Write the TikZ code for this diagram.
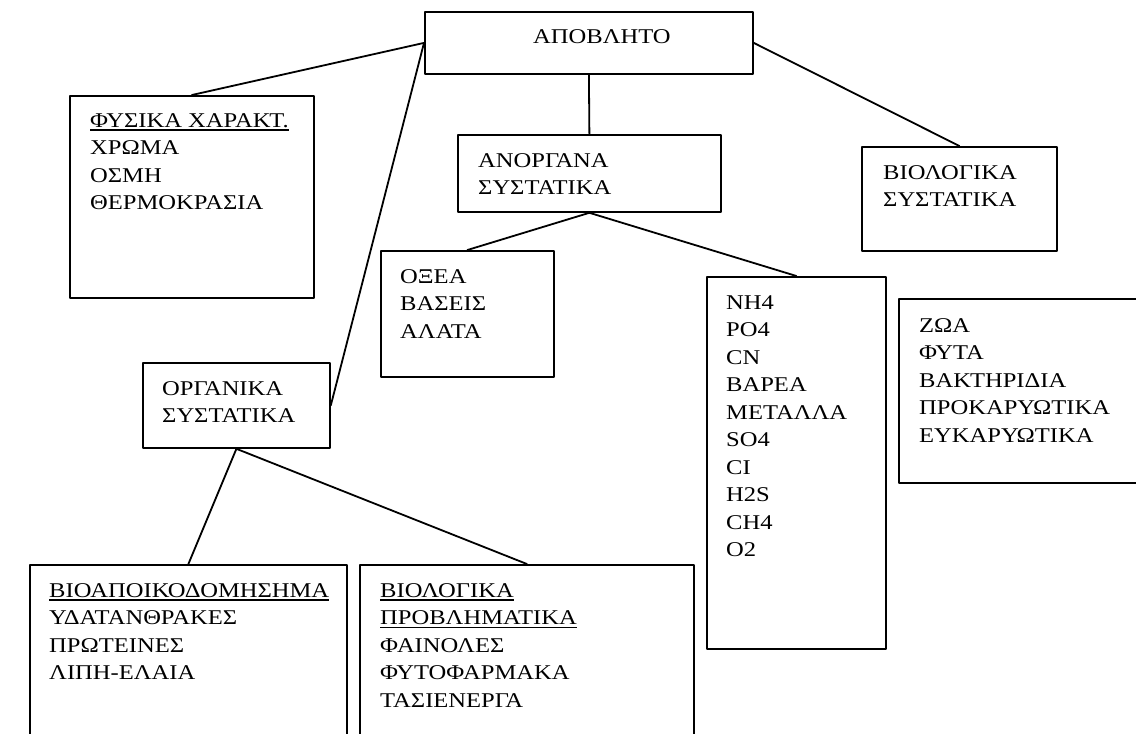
\documentclass[tikz,border=0pt]{standalone}
\usepackage{fontspec}
\setmainfont{Liberation Serif}[FakeStretch=1.17]
\usepackage{tikz}
\usetikzlibrary{positioning}
\newcommand{\boxlines}[1]{\begin{tabular}[t]{@{}l@{}}#1\end{tabular}}
\newcommand{\ulined}[1]{\setbox0\hbox{#1}\rlap{\rule[-3.5pt]{\wd0}{1.5pt}}\box0}
\tikzset{
  wt diagram/.style={x=1pt, y=-1pt, line cap=round, line join=round},
  wt box/.style={draw, line width=1.8pt, anchor=north west, inner sep=0pt},
  wt text/.style={anchor=base west, inner sep=0pt,
    font=\fontsize{21}{27.5}\selectfont},
  wt link/.style={draw, line width=1.8pt}
}

\begin{document}
\begin{tikzpicture}[wt diagram]
\useasboundingbox (0,0) rectangle (1136,734);
\clip (0,0) rectangle (1136,734);
% boxes
\node[wt box, minimum width=328pt, minimum height=62pt] (waste) at (424,11) {};
\node[wt box, minimum width=244pt, minimum height=202pt] (physical) at (69,95) {};
\node[wt box, minimum width=263pt, minimum height=77pt] (inorganic) at (457,134) {};
\node[wt box, minimum width=195pt, minimum height=104pt] (biological) at (861,146) {};
\node[wt box, minimum width=173pt, minimum height=126pt] (acids) at (380,250) {};
\node[wt box, minimum width=179pt, minimum height=372pt] (ions) at (706,276) {};
\node[wt box, minimum width=260pt, minimum height=184pt] (organisms) at (898,298) {};
\node[wt box, minimum width=187pt, minimum height=85pt] (organic) at (142,362) {};
\node[wt box, minimum width=317pt, minimum height=220pt] (degradable) at (29,564) {};
\node[wt box, minimum width=334pt, minimum height=220pt] (problematic) at (359,564) {};
% texts
\node[wt text] (wastetext) at ([shift={(109,32)}]waste.north west) {ΑΠΟΒΛΗΤΟ};
\node[wt text] (physicaltext) at ([shift={(21,32)}]physical.north west)
  {\boxlines{\ulined{ΦΥΣΙΚΑ ΧΑΡΑΚΤ.}\\ ΧΡΩΜΑ\\ ΟΣΜΗ\\ ΘΕΡΜΟΚΡΑΣΙΑ}};
\node[wt text] (inorganictext) at ([shift={(21,33)}]inorganic.north west)
  {\boxlines{ΑΝΟΡΓΑΝΑ\\ ΣΥΣΤΑΤΙΚΑ}};
\node[wt text] (biologicaltext) at ([shift={(22,33)}]biological.north west)
  {\boxlines{ΒΙΟΛΟΓΙΚΑ\\ ΣΥΣΤΑΤΙΚΑ}};
\node[wt text] (acidstext) at ([shift={(20,33)}]acids.north west)
  {\boxlines{ΟΞΕΑ\\ ΒΑΣΕΙΣ\\ ΑΛΑΤΑ}};
\node[wt text] (ionstext) at ([shift={(20,33)}]ions.north west)
  {\boxlines{NH4\\ PO4\\ CN\\ ΒΑΡΕΑ\\ ΜΕΤΑΛΛΑ\\ SO4\\ CI\\ H2S\\ CH4\\ O2}};
\node[wt text] (organismstext) at ([shift={(21,34)}]organisms.north west)
  {\boxlines{ΖΩΑ\\ ΦΥΤΑ\\ ΒΑΚΤΗΡΙΔΙΑ\\ ΠΡΟΚΑΡΥΩΤΙΚΑ\\ ΕΥΚΑΡΥΩΤΙΚΑ}};
\node[wt text] (organictext) at ([shift={(20,33)}]organic.north west)
  {\boxlines{ΟΡΓΑΝΙΚΑ\\ ΣΥΣΤΑΤΙΚΑ}};
\node[wt text] (degradabletext) at ([shift={(20,33)}]degradable.north west)
  {\boxlines{\ulined{ΒΙΟΑΠΟΙΚΟΔΟΜΗΣΗΜΑ}\\ ΥΔΑΤΑΝΘΡΑΚΕΣ\\ ΠΡΩΤΕΙΝΕΣ\\ ΛΙΠΗ-ΕΛΑΙΑ}};
\node[wt text] (problematictext) at ([shift={(21,33)}]problematic.north west)
  {\boxlines{\ulined{ΒΙΟΛΟΓΙΚΑ}\\ \ulined{ΠΡΟΒΛΗΜΑΤΙΚΑ}\\ ΦΑΙΝΟΛΕΣ\\ ΦΥΤΟΦΑΡΜΑΚΑ\\ ΤΑΣΙΕΝΕΡΓΑ}};
% links
\draw[wt link] (waste.west) -- (physical.north);
\draw[wt link] (waste.west) -- (organic.east);
\draw[wt link] (waste.south) -- (inorganic.north);
\draw[wt link] (waste.east) -- (biological.north);
\draw[wt link] (inorganic.south) -- (acids.north);
\draw[wt link] (inorganic.south) -- (ions.north);
\draw[wt link] (organic.south) -- (degradable.north);
\draw[wt link] (organic.south) -- (problematic.north);
\end{tikzpicture}
\end{document}
